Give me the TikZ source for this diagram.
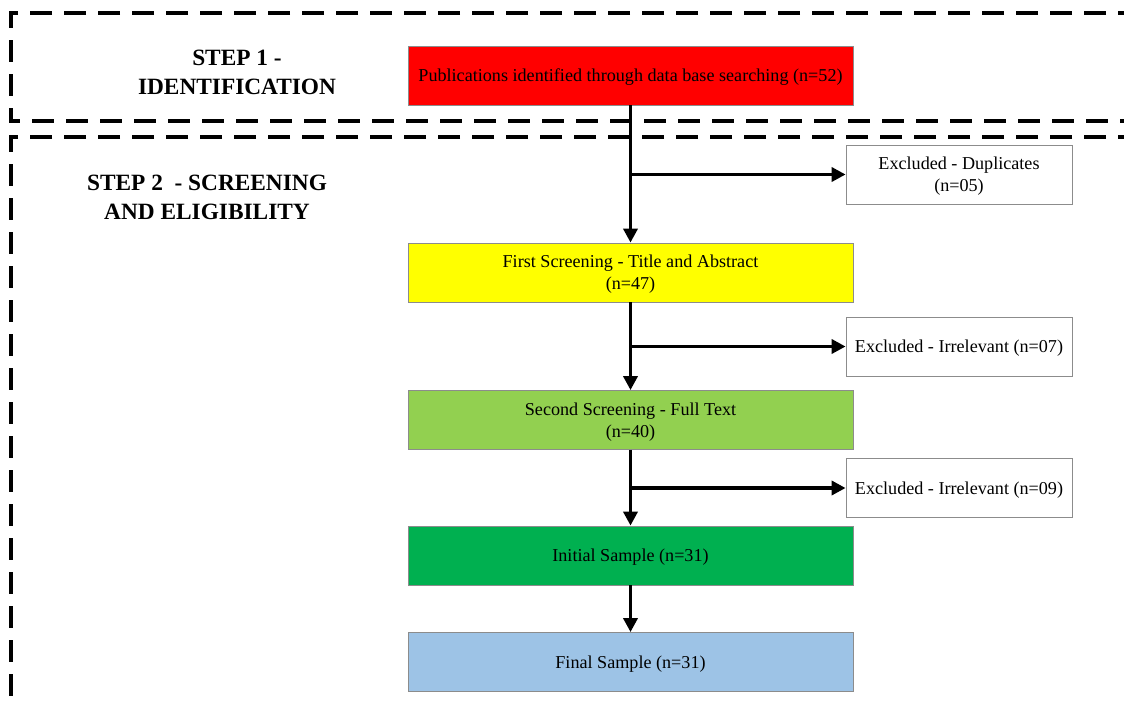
\documentclass[tikz,border=0pt]{standalone}
\usepackage{fontspec}
\setmainfont{Liberation Serif}
\usetikzlibrary{arrows.meta}
\begin{document}
\begin{tikzpicture}[x=0.75pt,y=-0.75pt,
  stepbox/.style={draw=black!45, line width=0.6pt, minimum width=445*0.75pt, minimum height=59*0.75pt, align=center, inner sep=0pt, text depth=0pt, font=\fontsize{13.6}{16.5}\selectfont},
  sidebox/.style={draw=black!45, fill=white, line width=0.6pt, minimum width=226*0.75pt, minimum height=59*0.75pt, align=center, inner sep=0pt, text depth=0pt, font=\fontsize{13.6}{16.5}\selectfont},
  phase/.style={draw=black, line width=2.4pt, dash pattern=on 16.5pt off 9pt},
  steplabel/.style={font=\fontsize{17.5}{21.75}\selectfont\bfseries, align=center},
  arr/.style={line width=2.7pt, -{Triangle[width=10.5pt,length=10.5pt]}},
]
\useasboundingbox (0,0) rectangle (1124,700);
% phase frames
\draw[phase] (1140,13) -- (11,13) -- (11,121) -- (1140,121);
\draw[phase] (1140,137) -- (11,137) -- (11,720);
% step labels
\node[steplabel] (s1) at (237,72) {STEP 1 -\\IDENTIFICATION};
\node[steplabel] (s2) at (207,197) {STEP 2~ - SCREENING\\AND ELIGIBILITY};
% main boxes
\node[stepbox, fill={rgb,255:red,255;green,0;blue,0}] (red) at (630.5,75.5) {Publications identified through data base searching (n=52)};
\node[stepbox, fill={rgb,255:red,255;green,255;blue,0}] (yel) at (630.5,272.5) {First Screening - Title and Abstract\\(n=47)};
\node[stepbox, fill={rgb,255:red,146;green,208;blue,80}] (lgr) at (630.5,420) {Second Screening - Full Text\\(n=40)};
\node[stepbox, fill={rgb,255:red,0;green,176;blue,80}] (grn) at (630.5,555.5) {Initial Sample (n=31)};
\node[stepbox, fill={rgb,255:red,157;green,195;blue,230}] (blu) at (630.5,662) {Final Sample (n=31)};
% side boxes
\node[sidebox] (dup) at (959,174.5) {Excluded - Duplicates\\(n=05)};
\node[sidebox] (ir1) at (959,346.5) {Excluded - Irrelevant (n=07)};
\node[sidebox] (ir2) at (959,488) {Excluded - Irrelevant (n=09)};
% connectors
\draw[arr] (red) -- (yel);
\draw[arr] (yel) -- (lgr);
\draw[arr] (lgr) -- (grn);
\draw[arr] (grn) -- (blu);
\draw[arr] (red.south |- dup.west) -- (dup.west);
\draw[arr] (yel.south |- ir1.west) -- (ir1.west);
\draw[arr] (lgr.south |- ir2.west) -- (ir2.west);
\end{tikzpicture}
\end{document}
